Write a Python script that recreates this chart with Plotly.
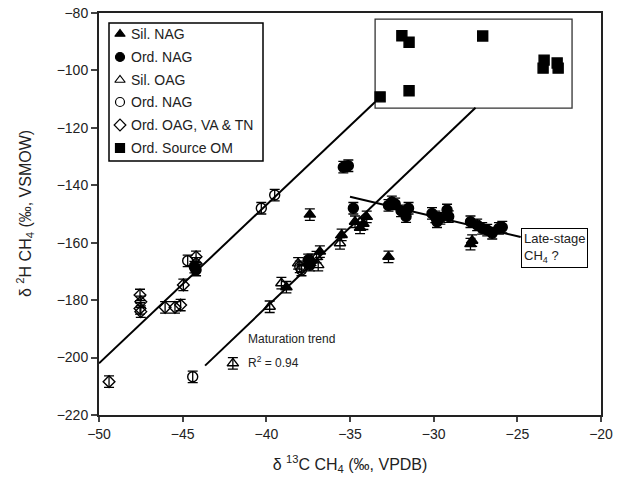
import plotly.graph_objects as go

# ---- data ----
sil_nag_x = [-37.4, -35.5, -34.7, -34.4, -34.0, -34.2, -36.8, -32.7, -27.7, -27.8, -38.8, -37.3]
sil_nag_y = [-150.2, -157.3, -152.7, -154.8, -151.0, -153.4, -163.1, -164.9, -159.3, -160.5, -175.5, -166.0]

ord_nag_x = [-35.4, -35.1, -34.8, -32.7, -32.5, -32.3, -31.95, -31.5, -31.65, -30.1, -29.9, -29.6,
             -29.2, -29.1, -29.8, -27.8, -27.4, -27.1, -26.8, -26.5, -26.1, -25.9, -37.5, -37.4,
             -44.2, -44.3]
ord_nag_y = [-133.7, -133.2, -148.0, -147.0, -145.8, -146.5, -148.9, -148.0, -150.9, -149.8, -151.0, -151.5,
             -148.6, -150.9, -152.7, -152.7, -153.8, -155.0, -155.6, -156.7, -155.0, -154.6, -166.0, -167.8,
             -169.5, -168.5]

sil_oag_x = [-42.0, -39.8, -39.1, -38.1, -36.9, -37.0, -35.6]
sil_oag_y = [-202.0, -182.3, -174.1, -167.2, -167.8, -165.0, -160.2]

ord_nag_open_x = [-44.4, -44.7, -40.3, -39.5, -38.0, -37.9]
ord_nag_open_y = [-206.7, -166.3, -148.0, -143.4, -168.4, -169.5]

ord_oag_x = [-49.4, -47.55, -47.5, -47.55, -47.5, -46.05, -45.46, -45.12, -44.96, -44.2, -44.2]
ord_oag_y = [-208.4, -178.2, -180.6, -182.9, -184.0, -182.5, -182.5, -181.7, -174.7, -164.9, -167.2]

source_om_x = [-31.9, -31.47, -27.07, -33.2, -31.47, -23.4, -22.62, -23.46, -22.56]
source_om_y = [-87.9, -90.2, -88.0, -109.2, -107.1, -96.4, -97.4, -99.2, -99.2]

err = 2.0

# trend lines (endpoints)
line1_x = [-50.0, -33.5]
line1_y = [-202.0, -111.0]
line2_x = [-43.66, -27.5]
line2_y = [-202.8, -113.0]
late_x = [-35.0, -24.8]
late_y = [-144.0, -158.0]

# inset box
inset_x = [-33.5, -21.73]
inset_y = [-113.1, -82.1]

x_ticks = [-50, -45, -40, -35, -30, -25, -20]
y_ticks = [-80, -100, -120, -140, -160, -180, -200, -220]

legend_labels = ["Sil. NAG", "Ord. NAG", "Sil. OAG", "Ord. NAG", "Ord. OAG, VA & TN", "Ord. Source OM"]
legend_symbols = ["triangle-up", "circle", "triangle-up-open", "circle-open", "diamond-open", "square"]

FONT = "Liberation Sans, Arial, sans-serif"

# plot area in pixels (for the hand-made legend box)
L, R, T, B = 99, 601, 13, 415
W, H = R - L, B - T
def px(x):
    return (x - L) / W
def py(y):
    return 1 - (y - T) / H

fig = go.Figure()

# lines
for lx, ly in [(line1_x, line1_y), (line2_x, line2_y), (late_x, late_y)]:
    fig.add_trace(go.Scatter(x=lx, y=ly, mode="lines", line=dict(color="black", width=2),
                             showlegend=False, hoverinfo="skip"))

series = [
    (sil_nag_x, sil_nag_y, legend_symbols[0], True, 10),
    (ord_nag_x, ord_nag_y, legend_symbols[1], True, 10),
    (sil_oag_x, sil_oag_y, legend_symbols[2], True, 10),
    (ord_nag_open_x, ord_nag_open_y, legend_symbols[3], True, 10),
    (ord_oag_x, ord_oag_y, legend_symbols[4], True, 9),
    (source_om_x, source_om_y, legend_symbols[5], False, 10),
]

for xs, ys, sym, has_err, size in series:
    fig.add_trace(go.Scatter(
        x=xs, y=ys, mode="markers", showlegend=False,
        marker=dict(symbol=sym, size=size, color="black",
                    line=dict(color="black", width=1.4)),
        error_y=dict(type="constant", value=err, color="black", thickness=1.3, width=5,
                     visible=has_err),
    ))

# hand-made legend
item_py = [34, 57, 80, 102, 125, 148]
fig.add_shape(type="rect", xref="paper", yref="paper",
              x0=px(109), x1=px(263), y0=py(161), y1=py(23),
              line=dict(color="black", width=1.5), fillcolor="white", layer="below")
fig.add_trace(go.Scatter(
    x=[px(120)] * len(legend_labels), y=[py(v) for v in item_py],
    xaxis="x2", yaxis="y2", mode="markers", showlegend=False, hoverinfo="skip",
    marker=dict(symbol=legend_symbols, size=9, color="black", line=dict(color="black", width=1.2)),
))
for lab, yy in zip(legend_labels, item_py):
    fig.add_annotation(xref="paper", yref="paper", x=px(129), y=py(yy), text=lab,
                       showarrow=False, xanchor="left", yanchor="middle",
                       font=dict(size=14, color="#222"))

fig.add_shape(type="rect", x0=inset_x[0], x1=inset_x[1], y0=inset_y[0], y1=inset_y[1],
              line=dict(color="#333333", width=1.3), layer="below")

fig.add_annotation(x=-41.2, y=-193.5, text="Maturation trend", showarrow=False,
                   xanchor="left", yanchor="middle", font=dict(size=12, color="#222"))
fig.add_annotation(x=-41.2, y=-201.5, text="R<sup>2</sup> = 0.94", showarrow=False,
                   xanchor="left", yanchor="middle", font=dict(size=12, color="#222"))
fig.add_annotation(x=-24.8, y=-154.8, text="Late-stage<br>CH<sub>4</sub> ?", showarrow=False,
                   xanchor="left", yanchor="top", align="left", bordercolor="black",
                   borderwidth=1, borderpad=2, bgcolor="white",
                   font=dict(size=13, color="#222"))

# y-axis title as a rotated annotation (exact placement)
fig.add_annotation(xref="paper", yref="paper", x=px(25), y=0.5, textangle=-90,
                   text="δ <sup>2</sup>H CH<sub>4</sub> (‰, VSMOW)", showarrow=False,
                   xanchor="center", yanchor="middle", font=dict(size=16, color="#222"))

fig.update_layout(
    width=624, height=480,
    margin=dict(l=L, r=624 - R, t=T, b=480 - B, autoexpand=False),
    paper_bgcolor="white", plot_bgcolor="white",
    font=dict(family=FONT, size=14, color="#222"),
    showlegend=False,
    xaxis=dict(range=[-50, -20], tickvals=x_ticks, ticks="outside", ticklen=5, tickwidth=1.5,
               showline=True, linecolor="#222", linewidth=2, mirror=True, showgrid=False,
               zeroline=False, tickfont=dict(size=14), automargin=True,
               title=dict(text="δ <sup>13</sup>C CH<sub>4</sub> (‰, VPDB)", font=dict(size=16),
                          standoff=18)),
    yaxis=dict(range=[-220, -80], tickvals=y_ticks, ticks="outside", ticklen=6, tickwidth=1.5,
               showline=True, linecolor="#222", linewidth=2, mirror=True, showgrid=False,
               zeroline=False, tickfont=dict(size=14), automargin=True),
    xaxis2=dict(overlaying="x", range=[0, 1], visible=False, anchor="y2", fixedrange=True),
    yaxis2=dict(overlaying="y", range=[0, 1], visible=False, anchor="x2", fixedrange=True),
)

fig.write_html("out.html")
